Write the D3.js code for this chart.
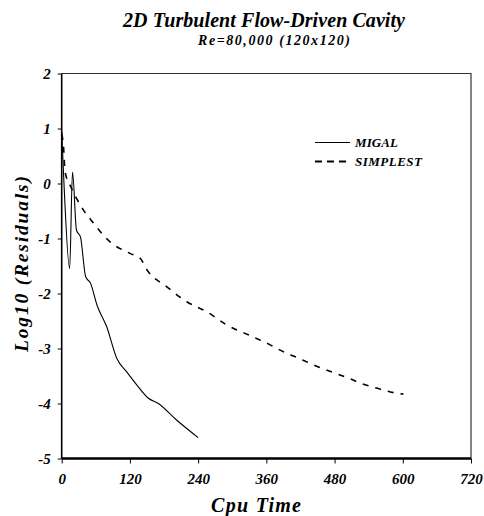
<!DOCTYPE html>
<html><head><meta charset="utf-8">
<script src="https://cdn.jsdelivr.net/npm/d3@7"></script>
<style>body{margin:0;background:#fff}svg{display:block}</style>
</head><body>
<svg id="c" width="484" height="516"></svg>
<script>
const xTicks = [0,120,240,360,480,600,720];
const yTicks = [-5,-4,-3,-2,-1,0,1,2];
const migalX = [0,4,14,19,26,33,42,51,62,79,97,114,132,152,170,202,240];
const migalY = [0.94,0,-1.55,0.21,-0.85,-0.97,-1.69,-1.82,-2.21,-2.6,-3.18,-3.42,-3.66,-3.9,-4.0,-4.3,-4.62];
const simpX = [0,3,6,16,26,38,56,76,85,120,138,150,185,220,255,290,337,366,390,413,437,460,484,507,531,554,578,601];
const simpY = [0.9,0.7,0.21,-0.06,-0.27,-0.48,-0.72,-0.97,-1.06,-1.27,-1.36,-1.57,-1.88,-2.15,-2.33,-2.57,-2.79,-2.93,-3.06,-3.16,-3.27,-3.37,-3.46,-3.55,-3.65,-3.72,-3.79,-3.83];
const seriesNames = ["MIGAL","SIMPLEST"];

const FONT = "Liberation Serif";
const svg = d3.select("#c");
const L=61.7,R=471,T=73.5,B=458.5;
const x = d3.scaleLinear().domain([0,720]).range([L,R]);
const y = d3.scaleLinear().domain([-5,2]).range([B,T]);

svg.append("path").attr("d",`M${L},${T}H${R}V${B}`).attr("fill","none").attr("stroke","#333").attr("stroke-width",1.2);

const lineC = d3.line().x(d=>x(d[0])).y(d=>y(d[1])).curve(d3.curveMonotoneX);
svg.append("path").datum(d3.zip(simpX,simpY)).attr("d",lineC).attr("fill","none").attr("stroke","#000").attr("stroke-width",1.6).attr("stroke-dasharray","6,7");
svg.append("path").datum(d3.zip(migalX,migalY)).attr("d",lineC).attr("fill","none").attr("stroke","#000").attr("stroke-width",1.1).attr("stroke-linejoin","round");

const fmt = d => String(d);
const ya = svg.append("g").attr("transform",`translate(${L},0)`).call(d3.axisLeft(y).tickValues(yTicks).tickSize(4).tickPadding(7).tickFormat(fmt));
ya.select(".domain").attr("stroke-width",1.6).attr("d",`M0,${T}V${B}`);
const xa = svg.append("g").attr("transform",`translate(0,${B})`).call(d3.axisBottom(x).tickValues(xTicks).tickSize(5).tickPadding(10).tickFormat(fmt));
xa.select(".domain").attr("stroke-width",2.5).attr("d",`M${L},0H${R}`);
svg.selectAll(".tick line").attr("stroke","#000").attr("stroke-width",1);
svg.selectAll(".tick text").attr("font-size",15);

function label(txt, size, len){
  return svg.append("text").attr("text-anchor","middle").attr("font-size",size)
    .attr("textLength",len).attr("lengthAdjust","spacing").text(txt);
}
label("2D Turbulent Flow-Driven Cavity",20,282).attr("x",264).attr("y",27);
label("Re=80,000 (120x120)",14,152).attr("x",274).attr("y",45);
label("Cpu Time",20,90).attr("x",256).attr("y",512);
label("Log10 (Residuals)",19.5,176).attr("transform","translate(28,264) rotate(-90)");

const lg = svg.append("g");
lg.append("line").attr("x1",315).attr("x2",350).attr("y1",142.5).attr("y2",142.5).attr("stroke","#000").attr("stroke-width",1.1);
lg.append("line").attr("x1",315).attr("x2",350).attr("y1",161.5).attr("y2",161.5).attr("stroke","#000").attr("stroke-width",1.8).attr("stroke-dasharray","7,5");
lg.append("text").attr("x",355).attr("y",146.5).attr("font-size",13).attr("textLength",43).attr("lengthAdjust","spacing").text(seriesNames[0]);
lg.append("text").attr("x",355).attr("y",166).attr("font-size",13).attr("textLength",67).attr("lengthAdjust","spacing").text(seriesNames[1]);

svg.selectAll("g").attr("font-family",null);
svg.selectAll("text").attr("font-family",FONT).attr("font-weight","bold").attr("font-style","italic").attr("fill","#000");
</script>
</body></html>
